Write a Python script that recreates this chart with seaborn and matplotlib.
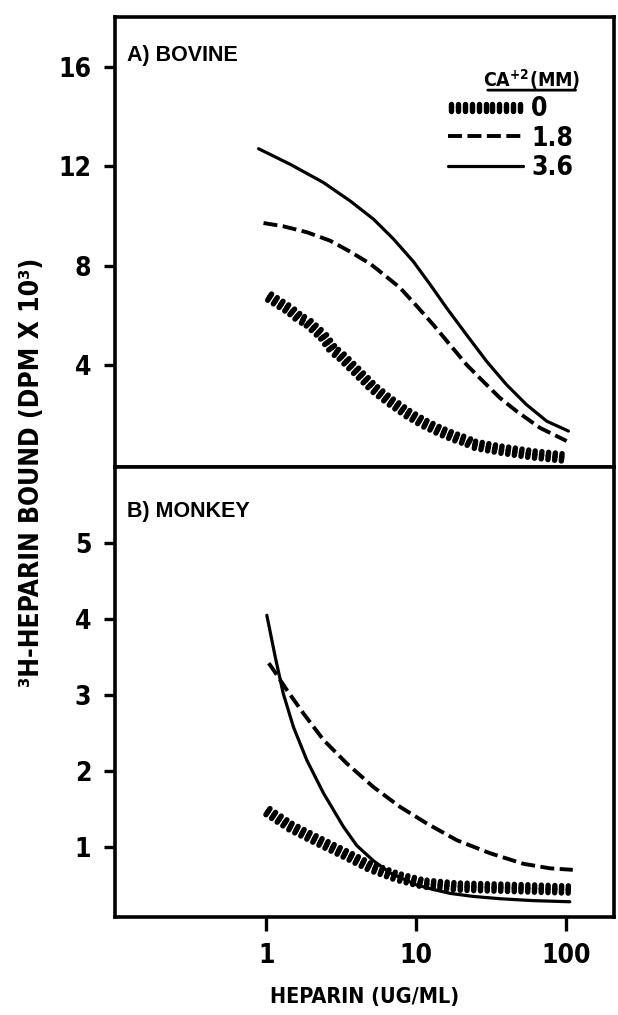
import numpy as np
import pandas as pd
import matplotlib
matplotlib.use('Agg')
import matplotlib.pyplot as plt
import matplotlib.patheffects as pe
from matplotlib import font_manager
import seaborn as sns

#########################
#
# heparin binding curves, bovine (A) and monkey (B), three Ca+2 levels
#
#########################

ca_labels = ['0', '1.8', '3.6']

# panel A - bovine
bov_x_0 = [1.01, 1.45, 1.68, 1.87, 2.41, 2.81, 3.11, 4.02, 4.69, 5.19, 6.71, 7.8, 8.66, 11.2, 13.1, 14.5, 18.7, 21.8, 24.1, 36.3, 60.5, 98.5]
bov_y_0 = [6.81, 6.21, 5.88, 5.75, 5.15, 4.6, 4.41, 3.75, 3.35, 3.08, 2.55, 2.28, 2.08, 1.68, 1.48, 1.35, 1.08, 0.95, 0.81, 0.61, 0.41, 0.28]
bov_x_18 = [0.96, 1.30, 1.87, 2.67, 3.63, 4.94, 5.45, 7.8, 10.1, 13.1, 16.9, 21.8, 28.0, 36.3, 46.8, 67.0, 101.0]
bov_y_18 = [9.72, 9.59, 9.35, 9.01, 8.57, 8.08, 7.88, 7.12, 6.38, 5.61, 4.81, 4.01, 3.35, 2.68, 2.15, 1.48, 0.95]
bov_x_36 = [0.89, 1.45, 2.41, 3.63, 5.19, 7.06, 9.59, 12.4, 16.0, 21.8, 29.6, 40.2, 54.6, 74.3, 103.8]
bov_y_36 = [12.71, 12.08, 11.35, 10.61, 9.88, 9.08, 8.17, 7.25, 6.30, 5.21, 4.15, 3.21, 2.41, 1.75, 1.35]

# panel B - monkey
mon_x_0 = [0.985, 1.45, 2.18, 3.27, 4.94, 7.44, 11.2, 18.7, 46.8, 109]
mon_y_0 = [1.49, 1.27, 1.09, 0.92, 0.74, 0.61, 0.52, 0.48, 0.46, 0.44]
mon_x_18 = [1.04, 1.12, 1.37, 1.77, 2.41, 3.45, 5.19, 7.8, 11.8, 18.7, 31.0, 51.9, 78.0, 111]
mon_y_18 = [3.42, 3.33, 3.07, 2.76, 2.41, 2.10, 1.79, 1.53, 1.31, 1.09, 0.92, 0.78, 0.72, 0.70]
mon_x_36 = [1.01, 1.15, 1.30, 1.52, 1.87, 2.41, 3.27, 4.02, 5.19, 6.71, 8.66, 10.1, 13.1, 16.9, 24.1, 36.3, 60.0, 106]
mon_y_36 = [4.05, 3.50, 3.02, 2.58, 2.14, 1.71, 1.27, 1.02, 0.82, 0.66, 0.56, 0.50, 0.44, 0.39, 0.35, 0.32, 0.295, 0.28]

x_ticks = [1, 10, 100]
top_yticks = [4, 8, 12, 16]
bot_yticks = [1, 2, 3, 4, 5]

sns.set_style('white')

# a narrow bold face looks closest to the old plotter lettering, if one is around
narrow = [f for f in font_manager.fontManager.ttflist
          if ('Narrow' in f.fname or 'Condensed' in f.fname) and 'Bold' in f.fname
          and 'Italic' not in f.fname and 'Oblique' not in f.fname]
if narrow:
    plt.rcParams['font.family'] = [narrow[0].name, 'Liberation Sans', 'DejaVu Sans']
    plt.rcParams['font.stretch'] = narrow[0].stretch
    small = 1.0
else:
    plt.rcParams['font.family'] = ['Liberation Sans', 'DejaVu Sans']
    small = 0.9
plt.rcParams['font.weight'] = 'bold'
plt.rcParams['axes.labelweight'] = 'bold'
plt.rcParams['mathtext.default'] = 'regular'
for k in ['text.color', 'axes.labelcolor', 'xtick.color', 'ytick.color']:
    plt.rcParams[k] = 'black'

fig, (ax_top, ax_bot) = plt.subplots(2, 1, figsize=(6.18, 10.15), dpi=100, sharex=True)
fig.subplots_adjust(left=0.186, right=0.994, top=0.983, bottom=0.0966, hspace=0)

# the "0" curve is a row of little bars standing across the line
bars = [pe.TickedStroke(spacing=4.8, angle=90, length=0.55, linewidth=3.9, capstyle='round'),
        pe.TickedStroke(spacing=4.8, angle=-90, length=0.55, linewidth=3.9, capstyle='round')]


def draw_panel(ax, xs, ys):
    lines = []
    styles = [dict(path_effects=bars, linewidth=0.5),
              dict(linestyle=(0, (3.6, 1.4)), linewidth=2.8),
              dict(linestyle='-', linewidth=2.3)]
    for x, y, st in zip(xs, ys, styles):
        df = pd.DataFrame({'x': x, 'y': y})
        sns.lineplot(data=df, x='x', y='y', ax=ax, color='black', sort=False,
                     estimator=None, legend=False, **st)
        lines.append(ax.get_lines()[-1])
    return lines


top_lines = draw_panel(ax_top, [bov_x_0, bov_x_18, bov_x_36], [bov_y_0, bov_y_18, bov_y_36])
draw_panel(ax_bot, [mon_x_0, mon_x_18, mon_x_36], [mon_y_0, mon_y_18, mon_y_36])

ax_bot.set_xscale('log')
ax_bot.set_xlim(0.098, 210)
ax_top.set_ylim(-0.1, 18)
ax_bot.set_ylim(0.08, 6.0)
ax_top.set_yticks(top_yticks)
ax_bot.set_yticks(bot_yticks)
ax_bot.set_xticks(x_ticks)
ax_bot.set_xticklabels([str(t) for t in x_ticks])
ax_bot.minorticks_off()
ax_top.minorticks_off()

for ax in (ax_top, ax_bot):
    for sp in ax.spines.values():
        sp.set_linewidth(2.6)
        sp.set_color('black')
    ax.tick_params(axis='y', direction='out', length=8, width=2.4, pad=9,
                   labelsize=19 * small, left=True)
    ax.tick_params(axis='x', direction='out', length=10, width=2.4, pad=9,
                   labelsize=19 * small, bottom=True)
    ax.set_xlabel('')
    ax.set_ylabel('')
ax_top.tick_params(axis='x', labelbottom=False)

ax_bot.set_xlabel('HEPARIN (UG/ML)', fontsize=15.5 * small, labelpad=13)
fig.text(0.052, 0.535, '³H-HEPARIN BOUND (DPM X 10³)', rotation=90,
         ha='center', va='center', fontsize=19 * small, fontweight='bold')

ax_top.text(0.024, 0.916, 'A) BOVINE', transform=ax_top.transAxes, ha='left',
            va='center', fontsize=15.5, fontweight='heavy',
            family=['Liberation Sans', 'DejaVu Sans'], stretch='normal')
ax_bot.text(0.024, 0.902, 'B) MONKEY', transform=ax_bot.transAxes, ha='left',
            va='center', fontsize=15.5, fontweight='heavy',
            family=['Liberation Sans', 'DejaVu Sans'], stretch='normal')

leg = ax_top.legend(top_lines, ca_labels, loc='upper left', bbox_to_anchor=(0.667, 0.824),
                    frameon=False, fontsize=19 * small, handlelength=2.85, handletextpad=0.3,
                    labelspacing=0.12, borderpad=0, borderaxespad=0)
ax_top.text(0.834, 0.862, 'CA$^{+2}$(MM)', transform=ax_top.transAxes, ha='center',
            va='center', fontsize=14)
ax_top.annotate('', xy=(0.928, 0.838), xytext=(0.741, 0.838), xycoords='axes fraction',
                arrowprops=dict(arrowstyle='-', linewidth=2.0, color='black'))

plt.savefig('out.png', dpi=100)
plt.close(fig)
